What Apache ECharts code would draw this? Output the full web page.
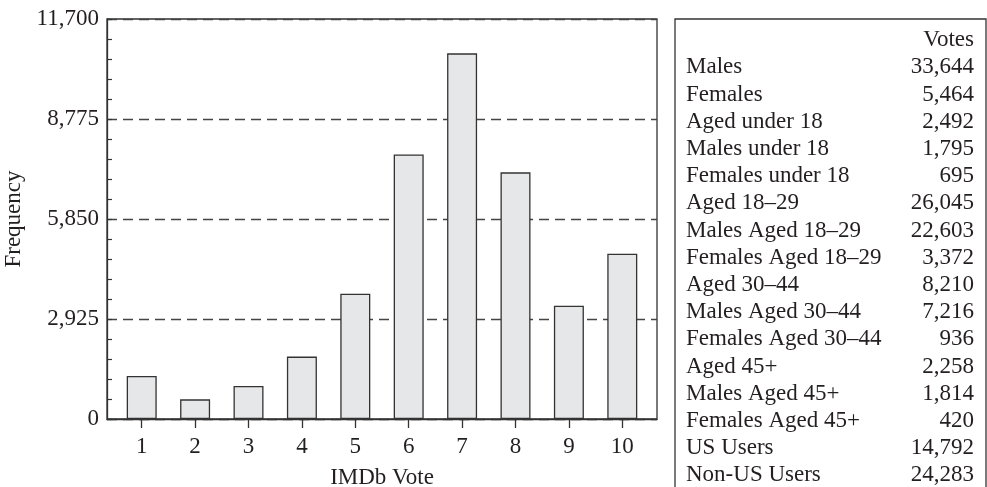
<!DOCTYPE html>
<html>
<head>
<meta charset="utf-8">
<script src="https://cdn.jsdelivr.net/npm/echarts@6/dist/echarts.min.js"></script>
<style>
  html, body { margin: 0; padding: 0; background: #fff; }
  #chart { width: 987px; height: 487px; }
</style>
</head>
<body>
<div id="chart"></div>
<script>
// histogram of IMDb votes
const votes = [1, 2, 3, 4, 5, 6, 7, 8, 9, 10];
const frequency = [1260, 575, 965, 1825, 3665, 7740, 10695, 7215, 3315, 4835];
const yTicks = [0, 2925, 5850, 8775, 11700];

// table on the right
const groups = ['Males', 'Females', 'Aged under 18', 'Males under 18', 'Females under 18',
    'Aged 18–29', 'Males Aged 18–29', 'Females Aged 18–29', 'Aged 30–44', 'Males Aged 30–44',
    'Females Aged 30–44', 'Aged 45+', 'Males Aged 45+', 'Females Aged 45+', 'US Users', 'Non-US Users'];
const groupVotes = [33644, 5464, 2492, 1795, 695, 26045, 22603, 3372, 8210, 7216,
    936, 2258, 1814, 420, 14792, 24283];

const font = '"Liberation Serif", "Times New Roman", serif';
const ink = '#231f20';
const fmt = v => v.toLocaleString('en-US');

const chart = echarts.init(document.getElementById('chart'));

const tableTop = 40.2, rowStep = 27.2;
const tableText = [
    { type: 'text', x: 974, y: tableTop,
      style: { text: 'Votes', fontSize: 23, fontFamily: font, fill: ink, align: 'right', verticalAlign: 'middle' } }
];
groups.forEach((g, i) => {
    const y = tableTop + (i + 1) * rowStep;
    tableText.push({ type: 'text', x: 686, y: y,
        style: { text: g, fontSize: 23, fontFamily: font, fill: ink, align: 'left', verticalAlign: 'middle' } });
    tableText.push({ type: 'text', x: 974, y: y,
        style: { text: fmt(groupVotes[i]), fontSize: 23, fontFamily: font, fill: ink, align: 'right', verticalAlign: 'middle' } });
});

chart.setOption({
    animation: false,
    backgroundColor: '#fff',
    grid: {
        left: 107, right: 330, top: 19, bottom: 68,
        outerBoundsMode: 'none',
        show: true, borderColor: '#333', borderWidth: 1.3
    },
    xAxis: {
        type: 'value',
        min: 0.35, max: 10.65,
        name: 'IMDb Vote',
        nameLocation: 'middle',
        nameGap: 47,
        nameTextStyle: { fontSize: 23, fontFamily: font, color: ink },
        axisLine: { show: true, lineStyle: { color: '#333', width: 1.3 } },
        axisTick: { show: true, customValues: votes, length: 9, lineStyle: { color: '#333', width: 1.3 } },
        axisLabel: { customValues: votes, margin: 16, fontSize: 23, fontFamily: font, color: ink },
        splitLine: { show: false }
    },
    yAxis: {
        type: 'value',
        min: 0, max: 11700, interval: 2925,
        name: 'Frequency',
        nameLocation: 'middle',
        nameRotate: 90,
        nameGap: 78,
        nameTextStyle: { fontSize: 23, fontFamily: font, color: ink },
        axisLine: { show: true, lineStyle: { color: '#333', width: 1.3 } },
        axisTick: { show: true, inside: true, length: 5, lineStyle: { color: '#333', width: 1.2 } },
        minorTick: { show: true, splitNumber: 5, length: 5, lineStyle: { color: '#333', width: 1.2 } },
        axisLabel: { margin: 8, fontSize: 23, fontFamily: font, color: ink, formatter: v => fmt(v) },
        splitLine: { show: true, lineStyle: { color: '#444', width: 1.3, type: [10, 6] } }
    },
    series: [{
        type: 'bar',
        data: votes.map((v, i) => [v, frequency[i]]),
        barWidth: 30,
        itemStyle: { color: '#e6e7e8', borderColor: '#333', borderWidth: 1.3 },
        z: 3
    }],
    graphic: [
        { type: 'rect', shape: { x: 675, y: 19, width: 311, height: 520 },
          style: { fill: '#fff', stroke: '#333', lineWidth: 1.3 } },
        ...tableText
    ]
});

window.addEventListener('resize', chart.resize);
</script>
</body>
</html>
